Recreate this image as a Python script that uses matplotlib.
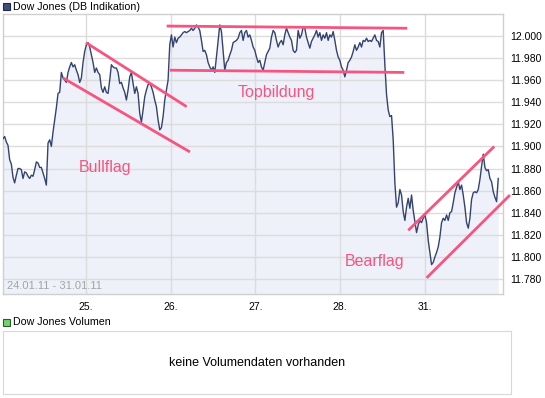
import numpy as np
import matplotlib
matplotlib.use("Agg")
import matplotlib.pyplot as plt
from matplotlib.ticker import FuncFormatter
from matplotlib.patches import Rectangle

plt.rcParams['font.family'] = ['Liberation Sans', 'DejaVu Sans']

# Dow Jones (DB Indikation), 24.01.11 - 31.01.11
# time = trading days counted from the start of 24.01. (weekend skipped),
# samples are evenly spaced between the first and the last one
T_FIRST = 0.021
T_LAST = 5.865

price = [
    # 24.01.
    11907, 11909, 11904, 11901, 11888, 11884, 11872, 11867, 11874, 11880,
    11880, 11879, 11871, 11877, 11876, 11873, 11871, 11874, 11873, 11879,
    11886, 11885, 11881, 11881, 11876, 11871, 11865, 11903, 11906, 11900,
    11913, 11924, 11935, 11948, 11949,
    # 25.01.
    11967, 11962, 11960, 11958, 11967, 11972, 11976, 11972, 11974, 11969,
    11965, 11958, 11962, 11976, 11986, 11992, 11994, 11990, 11983, 11976,
    11967, 11971, 11967, 11965, 11953, 11949, 11954, 11949, 11948, 11960,
    11974, 11972, 11971, 11971, 11967, 11957, 11958, 11953, 11949, 11942,
    11951, 11963, 11967, 11957, 11948, 11954, 11948, 11930, 11922, 11933,
    11945, 11951, 11956, 11957, 11954, 11949, 11942, 11936, 11924, 11915,
    11917, 11927, 11942, 11951, 11960, 11992,
    # 26.01.
    12001, 11990, 11999, 11994, 11998, 11999, 12001, 12003, 12004, 12003,
    12004, 12005, 12007, 12005, 12007, 12010, 12008, 12005, 11996, 11986,
    11987, 11983, 11976, 11972, 11969, 11972, 11967, 11981, 11996, 12010,
    12004, 11987, 11969, 11976, 11978, 11983, 11987, 11994, 11995, 11996,
    11998, 12003, 12005, 11996, 12003, 12005, 11999, 12001, 11996, 11990,
    11987, 11981, 11976, 11978, 11972, 11969, 11976, 11983, 11986, 11989,
    11999, 12005, 12003, 11996, 11990, 11994, 11996, 11992, 12001, 12007,
    12003, 11999, 11996, 11987, 11985, 11987,
    # 27.01.
    12005, 11998, 12001, 12008, 12007, 11999, 11994, 11989, 11995, 11998,
    12001, 12005, 11999, 12003, 11996, 12001, 11998, 12003, 11996, 12001,
    11999, 12004, 11996, 11987, 11981, 11978, 11972, 11969, 11963, 11969,
    11976, 11978, 11981, 11986, 11992, 11987, 11990, 11994, 11990, 11996,
    11995, 11998, 11995, 11996, 11995, 11998, 12001, 11996, 11995, 11990,
    12003, 12005, 11974, 11947, 11933, 11927, 11928, 11906, 11867,
    # 28.01. / 31.01.
    11845, 11849, 11861, 11856, 11841, 11833, 11845, 11853, 11844, 11856,
    11842, 11832, 11822, 11829, 11833, 11831, 11835, 11838, 11831, 11815,
    11804, 11793, 11795, 11800, 11804, 11809, 11818, 11831, 11835, 11833,
    11838, 11833, 11840, 11841, 11849, 11858, 11863, 11868, 11861, 11865,
    11856, 11845, 11831, 11826, 11835, 11852, 11858, 11859, 11858, 11861,
    11870, 11882, 11893, 11881, 11878, 11879, 11871, 11868, 11859, 11854,
    11850, 11871,
]

day_pos = [1, 2, 3, 4, 5]
day_labels = ['25.', '26.', '27.', '28.', '31.']
y_ticks = list(range(11780, 12001, 20))

# trend lines drawn into the chart: ((t0, p0), (t1, p1))
trend_lines = [
    ((1.000, 11994), (2.188, 11936)),   # Bullflag oben
    ((0.729, 11962), (2.227, 11895)),   # Bullflag unten
    ((1.952, 12009), (4.791, 12007)),   # Topbildung oben
    ((1.991, 11969), (4.756, 11967)),   # Topbildung unten
    ((4.803, 11824), (5.818, 11900)),   # Bearflag oben
    ((5.020, 11781), (6.003, 11856)),   # Bearflag unten
]
pattern_labels = [
    ('Bullflag', 1.224, 11881),
    ('Topbildung', 3.242, 11949),
    ('Bearflag', 4.410, 11796),
]

LINE = '#34436f'
FILL = '#eef1f9'
PINK = '#f7557f'
GRID = '#dcdcdc'
BORDER = '#cfcfcf'

t = np.linspace(T_FIRST, T_LAST, len(price))
y_lo, y_hi = 11766.4, 12019.9

fig = plt.figure(figsize=(5.45, 3.98), dpi=100)
W, H = 545.0, 398.0

# ---- price panel
ax = fig.add_axes([3 / W, (H - 294) / H, 500 / W, 280 / H])
ax.fill_between(t, price, y_lo, color=FILL, lw=0, zorder=1)
ax.plot(t, price, color=LINE, lw=1.0, zorder=3)
ax.set_xlim(0.021, 5.921)
ax.set_ylim(y_lo, y_hi)

ax.set_xticks(day_pos)
ax.set_xticklabels(day_labels)
ax.set_yticks(y_ticks)
ax.yaxis.tick_right()
ax.yaxis.set_major_formatter(FuncFormatter(lambda v, p: f"{v:,.0f}".replace(",", ".")))
ax.tick_params(axis='both', length=0, labelsize=7.5, colors='black')
ax.tick_params(axis='y', pad=5)
ax.tick_params(axis='x', pad=6)
ax.grid(True, color=GRID, lw=1.0)
ax.set_axisbelow('line')
for s in ax.spines.values():
    s.set_color(BORDER)
    s.set_linewidth(1.0)

for (t0, p0), (t1, p1) in trend_lines:
    ax.plot([t0, t1], [p0, p1], color=PINK, lw=2.0, solid_capstyle='butt',
            zorder=4, clip_on=False)

for txt, tx, ty in pattern_labels:
    ax.text(tx, ty, txt, color=PINK, fontsize=11.5, ha='center', va='center', zorder=5)

ax.text(0.008, 0.01, '24.01.11 - 31.01.11', transform=ax.transAxes,
        color='#a4a4a4', fontsize=8, ha='left', va='bottom')

# ---- header squares and titles
fig.add_artist(Rectangle((2.5 / W, 1 - 10 / H), 7 / W, 7 / H, transform=fig.transFigure,
                         facecolor='#3f4d7d', edgecolor='#222a44', lw=0.8))
fig.text(13 / W, 1 - 6.5 / H, 'Dow Jones (DB Indikation)', fontsize=7.7, va='center', ha='left')

fig.add_artist(Rectangle((3 / W, 1 - 326 / H), 7 / W, 7 / H, transform=fig.transFigure,
                         facecolor='#6fd56f', edgecolor='#2e5a2e', lw=0.8))
fig.text(13 / W, 1 - 322 / H, 'Dow Jones Volumen', fontsize=7.7, va='center', ha='left')

# ---- empty volume panel
ax2 = fig.add_axes([3 / W, (H - 394) / H, 508 / W, 63 / H])
ax2.set_xticks([])
ax2.set_yticks([])
for s in ax2.spines.values():
    s.set_color('#d8d8d8')
ax2.text(0.5, 0.5, 'keine Volumendaten vorhanden', transform=ax2.transAxes,
         ha='center', va='center', fontsize=9)

fig.savefig('out.png', dpi=100)
